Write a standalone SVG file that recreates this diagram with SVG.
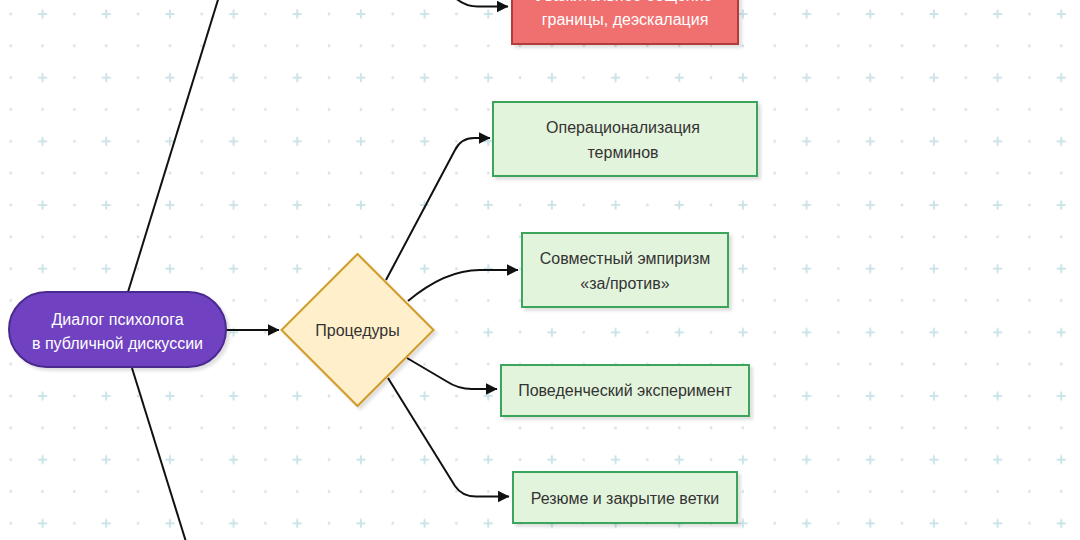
<svg xmlns="http://www.w3.org/2000/svg" width="1080" height="540" viewBox="0 0 1080 540">
<style>
  .edge { fill: none; stroke: #111; stroke-width: 2; }
  .lbl { font-family: "Liberation Sans", Arial, sans-serif; font-size: 16px; text-anchor: middle; fill: #333; }
  .lbl-w { fill: #ffffff; }
  .green { fill: #e3f4dc; stroke: #3ba55c; stroke-width: 2; }
  .red { fill: #f07070; stroke: #b23b3b; stroke-width: 2; }
  .purple { fill: #6f42c1; stroke: #4b2a8f; stroke-width: 2; }
  .diamond { fill: #ffefca; stroke: #d09b26; stroke-width: 2; }
</style>
<defs>
  <pattern id="grid" patternUnits="userSpaceOnUse" x="-5.2" y="-1.9" width="63.67" height="63.67">
    <circle cx="15.9" cy="15.9" r="1.4" fill="#d3e2e8"/>
    <circle cx="15.9" cy="47.75" r="1.4" fill="#d3e2e8"/>
    <circle cx="47.75" cy="47.75" r="1.4" fill="#d3e2e8"/>
    <path d="M43.25,15.9 H52.25 M47.75,11.4 V20.4" stroke="#cce4e8" stroke-width="2" fill="none"/>
  </pattern>
  <marker id="arrow" markerUnits="userSpaceOnUse" markerWidth="13" markerHeight="13" viewBox="0 0 13 13" refX="11.5" refY="6.5" orient="auto">
    <path d="M0,0.5 L12,6.5 L0,12.5 z" fill="#111"/>
  </marker>
  <filter id="shadow" x="-10%" y="-10%" width="130%" height="140%">
    <feDropShadow dx="3" dy="3" stdDeviation="1.5" flood-color="#000" flood-opacity="0.12"/>
  </filter>
</defs>
<rect x="0" y="0" width="1080" height="540" fill="#ffffff"/>
<rect x="0" y="0" width="1080" height="540" fill="url(#grid)"/>

<g id="connectors">
  <path class="edge" d="M128,292 L221,-10"/>
  <path class="edge" d="M132,368 L187,545"/>
  <path class="edge" d="M226,330 L279,330" marker-end="url(#arrow)"/>
  <path class="edge" d="M386,280 L455,150 Q461,138 474,138 L490,138" marker-end="url(#arrow)"/>
  <path class="edge" d="M408,301 Q445,270 480,270 L518,270" marker-end="url(#arrow)"/>
  <path class="edge" d="M407,358 L446,381 Q458,389 472,389 L497,389" marker-end="url(#arrow)"/>
  <path class="edge" d="M388,378 L455,486 Q462,496.5 476,496.5 L509,496.5" marker-end="url(#arrow)"/>
  <path class="edge" d="M447,-12 Q459,6.5 478,6.5 L508,6.5" marker-end="url(#arrow)"/>
</g>

<g id="node-root">
  <rect class="purple" x="9" y="292" width="217" height="75" rx="37.5" ry="37.5" filter="url(#shadow)"/>
  <text class="lbl lbl-w" x="117.5" y="325">Диалог психолога</text>
  <text class="lbl lbl-w" x="117.5" y="348.5">в публичной дискуссии</text>
</g>

<g id="node-procedures">
  <polygon class="diamond" points="357.5,254 433.5,330 357.5,406 281.5,330" filter="url(#shadow)"/>
  <text class="lbl" x="357.5" y="335.5">Процедуры</text>
</g>

<g id="node-communication">
  <rect class="red" x="512" y="-31" width="226" height="75" filter="url(#shadow)"/>
  <text class="lbl lbl-w" x="624" y="0.5">Уважительное общение</text>
  <text class="lbl lbl-w" x="625" y="25">границы, деэскалация</text>
</g>

<g id="node-operationalization">
  <rect class="green" x="493" y="102" width="264" height="74" filter="url(#shadow)"/>
  <text class="lbl" x="623" y="133">Операционализация</text>
  <text class="lbl" x="623" y="157.5">терминов</text>
</g>

<g id="node-empiricism">
  <rect class="green" x="522" y="233" width="206" height="74" filter="url(#shadow)"/>
  <text class="lbl" x="625" y="264">Совместный эмпиризм</text>
  <text class="lbl" x="625" y="288.5">«за/против»</text>
</g>

<g id="node-experiment">
  <rect class="green" x="501" y="365" width="248" height="51" filter="url(#shadow)"/>
  <text class="lbl" x="625" y="395.5">Поведенческий эксперимент</text>
</g>

<g id="node-summary">
  <rect class="green" x="513" y="472" width="224" height="51" filter="url(#shadow)"/>
  <text class="lbl" x="625" y="503.5">Резюме и закрытие ветки</text>
</g>
</svg>
